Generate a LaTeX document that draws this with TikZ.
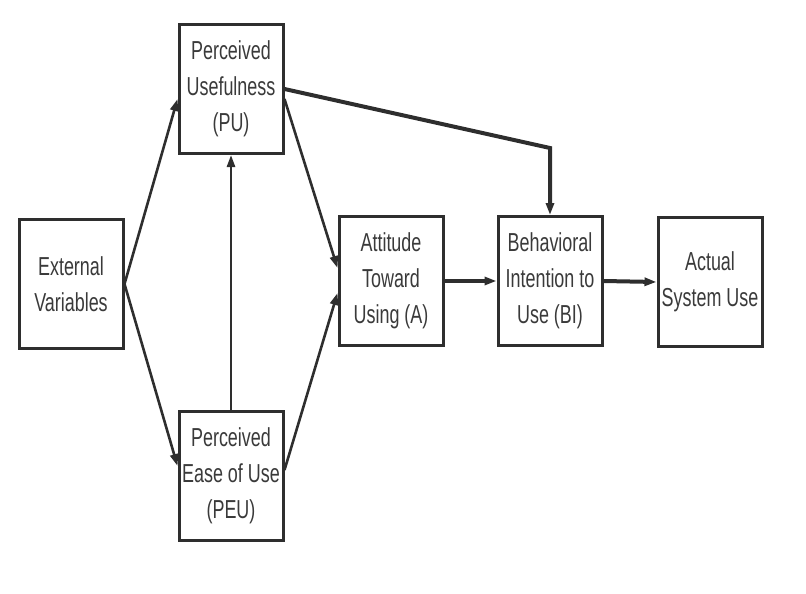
\documentclass[tikz,border=0pt]{standalone}
\usepackage{fontspec}
\setmainfont[FakeStretch=0.69]{Liberation Sans}
\definecolor{boxLine}{HTML}{2E2E2E}
\definecolor{boxText}{HTML}{3A3A3A}
\usepackage{tikz}
\usetikzlibrary{arrows.meta, calc}

\begin{document}
\begin{tikzpicture}[x=1pt, y=-1pt,
  construct/.style={draw=boxLine, line width=3pt, minimum width=104pt, minimum height=129pt,
    inner sep=0pt, align=center, text=boxText, font=\fontsize{26}{36}\selectfont},
  link/.style={draw=boxLine, line width=2.6pt, -{Triangle[length=12pt, width=8pt]}},
  heavy/.style={link, line width=4pt},
]
  \useasboundingbox (0,0) rectangle (806,594);

  \node[construct] (ext) at (71,284) {External\\Variables};
  \node[construct] (pu)  at (231,89) {Perceived\\Usefulness\\(PU)};
  \node[construct] (peu) at (231,476) {Perceived\\Ease of Use\\(PEU)};
  \node[construct] (att) at (391,281) {Attitude\\Toward\\Using (A)};
  \node[construct] (bi)  at (550,281) {Behavioral\\Intention to\\Use (BI)};
  \node[construct] (asu) at (710,282) {Actual\\System Use};

  \draw[link] (ext.east) -- ([yshift=-10]pu.west);
  \draw[link] (ext.east) -- ([yshift=10]peu.west);
  \draw[link] (peu.north) -- (pu.south);
  \draw[link] ([yshift=-10]pu.east) -- ([yshift=13]att.west);
  \draw[link] ([yshift=6]peu.east) -- ([yshift=-12]att.west);

  \coordinate (bend) at ($(bi.north)+(0,-67)$);
  \draw[heavy] (pu.east) -- (bend) -- (bi.north);
  \draw[heavy] (att.east) -- (bi.west);
  \draw[heavy] (bi.east) -- (asu.west);
\end{tikzpicture}
\end{document}
